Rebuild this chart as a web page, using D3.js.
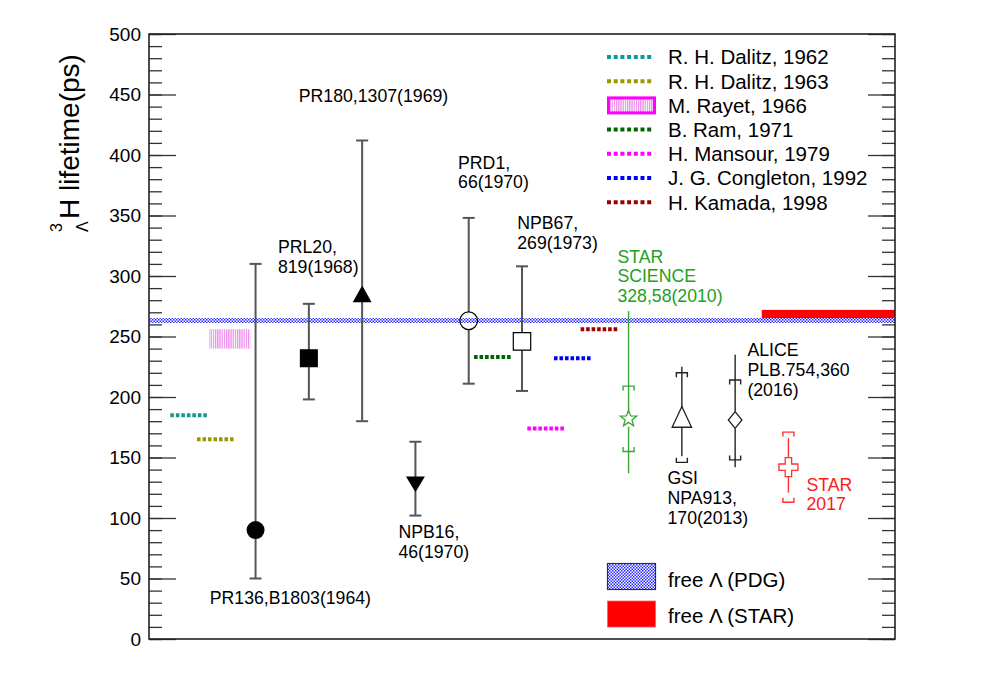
<!DOCTYPE html>
<html>
<head>
<meta charset="utf-8">
<script src="https://cdn.jsdelivr.net/npm/d3@7"></script>
<style>
body { margin: 0; background: #fff; }
text { font-family: "Liberation Sans", Arial, Helvetica, sans-serif; }
</style>
</head>
<body>
<div id="chart"></div>
<script>
// Hypertriton lifetime compilation - D3 version

// y axis ticks
var majorTicks = d3.range(0, 501, 50);
var minorTicks = d3.range(0, 501, 10);

// theory calculations (dashed lines)
var theoryNames  = ["R. H. Dalitz, 1962", "R. H. Dalitz, 1963", "M. Rayet, 1966", "B. Ram, 1971",
                    "H. Mansour, 1979", "J. G. Congleton, 1992", "H. Kamada, 1998"];
var theoryColors = ["#0f9a9a", "#999900", "#ff00ff", "#006600", "#ff00ff", "#0000ff", "#990000"];
var theoryValue  = [185, 165, null, 233, 174, 232, 256];
var theoryX0     = [0.4, 0.9, 1.13, 6.1, 7.1, 7.6, 8.1];
var theoryX1     = [1.1, 1.6, 1.9, 6.8, 7.8, 8.3, 8.8];
var rayetRange   = [240, 256];

// early emulsion / bubble chamber measurements
var oldX     = [2, 3, 4, 5, 6, 7];
var oldValue = [90, 232, 285, 128, 263, 246];
var oldHigh  = [310, 277, 412, 163, 348, 308];
var oldLow   = [50, 198, 180, 102, 211, 205];
var oldShape = ["circle", "square", "triangle", "triangleDown", "openCircle", "openSquare"];

// recent measurements (stat + syst)
var newX       = [9, 10, 11, 12];
var newValue   = [182, 183, 181, 142];
var newStatHi  = [271, 225, 235, 166];
var newStatLo  = [137, 151, 142, 121];
var newSysHi   = [209, 220, 214, 171];
var newSysLo   = [155, 146, 148, 113];
var newShape   = ["star", "openTriangle", "diamond", "cross"];
var newColors  = ["#3aa63a", "#222", "#222", "#ff3030"];

// free lambda lifetime bands
var pdgLambda  = [261.2, 265.2];
var starLambda = [262, 272];
var starBandX  = [11.5, 14];

// reference labels
var labelLines = [["PR136,B1803(1964)"], ["PRL20,", "819(1968)"], ["PR180,1307(1969)"],
                  ["NPB16,", "46(1970)"], ["PRD1,", "66(1970)"], ["NPB67,", "269(1973)"],
                  ["STAR", "SCIENCE", "328,58(2010)"], ["GSI", "NPA913,", "170(2013)"],
                  ["ALICE", "PLB.754,360", "(2016)"], ["STAR", "2017"]];
var labelX     = [1.14, 2.42, 2.81, 4.68, 5.80, 6.91, 8.79, 9.73, 11.23, 12.34];
var labelY     = [28.9, 319, 443.8, 83.2, 388.8, 338.8, 311, 127.8, 233.9, 122.6];
var labelColor = ["#000", "#000", "#000", "#000", "#000", "#000", "#22a022", "#000", "#000", "#ff1a1a"];

var W = 996, H = 673;
var margin = {top: 34, right: 101, bottom: 34, left: 149},
	width = W - margin.left - margin.right,
	height = H - margin.top - margin.bottom;

var x = d3.scaleLinear().domain([0, 14]).range([0, width]);
var y = d3.scaleLinear().domain([0, 500]).range([height, 0]);

var root = d3.select("#chart").append("svg")
	.attr("width", W)
	.attr("height", H);

var defs = root.append("defs");
var hatch = defs.append("pattern").attr("id", "hatch")
	.attr("patternUnits", "userSpaceOnUse").attr("width", 2.2).attr("height", 10);
hatch.append("rect").attr("width", 1.25).attr("height", 10).attr("fill", "#ec8cec");
var checker = defs.append("pattern").attr("id", "checker")
	.attr("patternUnits", "userSpaceOnUse").attr("width", 3).attr("height", 3);
checker.append("rect").attr("width", 3).attr("height", 3).attr("fill", "#fff");
checker.append("rect").attr("width", 1.5).attr("height", 1.5).attr("fill", "#2a2aff");
checker.append("rect").attr("x", 1.5).attr("y", 1.5).attr("width", 1.5).attr("height", 1.5).attr("fill", "#2a2aff");

var svg = root.append("g")
	.attr("transform", "translate(" + margin.left + "," + margin.top + ")");

// axes: ticks inside on both sides
svg.append("g").attr("class", "minor")
	.call(d3.axisLeft(y).tickValues(minorTicks).tickSize(-13).tickFormat(""));
svg.append("g").attr("class", "minor")
	.attr("transform", "translate(" + width + ",0)")
	.call(d3.axisRight(y).tickValues(minorTicks).tickSize(-13).tickFormat(""));
svg.append("g").attr("class", "major")
	.call(d3.axisLeft(y).tickValues(majorTicks).tickSize(-27).tickPadding(8));
svg.append("g").attr("class", "major")
	.attr("transform", "translate(" + width + ",0)")
	.call(d3.axisRight(y).tickValues(majorTicks).tickSize(-27).tickFormat(""));
svg.selectAll(".minor path, .major path").remove();
svg.selectAll(".tick line").attr("stroke", "#333").attr("stroke-width", 1.3);
svg.selectAll(".major text").attr("font-size", 19).attr("fill", "#000")
	.style("font-family", "'Liberation Sans', Arial, sans-serif");

// y title with pre-scripts
var title = root.append("g").attr("transform", "translate(79,232) rotate(-90)");
title.append("text").attr("x", 0).attr("y", -17).attr("font-size", 16).text("3");
title.append("text").attr("x", 0).attr("y", 9).attr("font-size", 16).text("\u039B");
title.append("text").attr("x", 13).attr("y", 0).attr("font-size", 28).text("H lifetime(ps)");

// free lambda bands
svg.append("rect")
	.attr("x", x(starBandX[0])).attr("width", x(starBandX[1]) - x(starBandX[0]))
	.attr("y", y(starLambda[1])).attr("height", y(starLambda[0]) - y(starLambda[1]))
	.attr("fill", "#ff0000");
svg.append("rect")
	.attr("x", 0).attr("width", width)
	.attr("y", y(pdgLambda[1])).attr("height", y(pdgLambda[0]) - y(pdgLambda[1]))
	.attr("fill", "url(#checker)");

// theory lines
theoryValue.forEach(function(v, i) {
	if (v === null) {
		svg.append("rect")
			.attr("x", x(theoryX0[i])).attr("width", x(theoryX1[i]) - x(theoryX0[i]))
			.attr("y", y(rayetRange[1])).attr("height", y(rayetRange[0]) - y(rayetRange[1]))
			.attr("fill", "url(#hatch)");
		return;
	}
	svg.append("line")
		.attr("x1", x(theoryX0[i])).attr("x2", x(theoryX1[i]))
		.attr("y1", y(v)).attr("y2", y(v))
		.attr("stroke", theoryColors[i]).attr("stroke-width", 4)
		.attr("stroke-dasharray", "3.6,1.9");
});

// marker shapes: path plus half height (gap for error bars)
function marker(kind) {
	var p = d3.path(), g = 8.4, filled = true;
	switch (kind) {
	case "circle": p.arc(0, 0, 8.4, 0, 2 * Math.PI); break;
	case "square": p.rect(-8.4, -8.4, 16.8, 16.8); break;
	case "triangle": p.moveTo(0, -7.5); p.lineTo(8.4, 7.5); p.lineTo(-8.4, 7.5); p.closePath(); g = 7.5; break;
	case "triangleDown": p.moveTo(0, 7); p.lineTo(8.4, -7); p.lineTo(-8.4, -7); p.closePath(); g = 7; break;
	case "openCircle": p.arc(0, 0, 8.8, 0, 2 * Math.PI); g = 8.8; filled = false; break;
	case "openSquare": p.rect(-8.7, -8.7, 17.4, 17.4); g = 8.7; filled = false; break;
	case "openTriangle": p.moveTo(0, -11); p.lineTo(9.7, 9.7); p.lineTo(-9.7, 9.7); p.closePath(); g = 10; filled = false; break;
	case "diamond": p.moveTo(0, -8.3); p.lineTo(6.8, 0); p.lineTo(0, 8.3); p.lineTo(-6.8, 0); p.closePath(); g = 8.3; filled = false; break;
	case "star":
		for (var k = 0; k < 10; k++) {
			var r = k % 2 ? 3.6 : 8.6, a = -Math.PI / 2 + k * Math.PI / 5;
			if (k) p.lineTo(r * Math.cos(a), r * Math.sin(a)); else p.moveTo(r * Math.cos(a), r * Math.sin(a));
		}
		p.closePath(); g = 8; filled = false; break;
	case "cross":
		var a1 = 3.2, a2 = 9.5;
		p.moveTo(-a1, -a2); p.lineTo(a1, -a2); p.lineTo(a1, -a1); p.lineTo(a2, -a1); p.lineTo(a2, a1);
		p.lineTo(a1, a1); p.lineTo(a1, a2); p.lineTo(-a1, a2); p.lineTo(-a1, a1); p.lineTo(-a2, a1);
		p.lineTo(-a2, -a1); p.lineTo(-a1, -a1); p.closePath(); g = 9.2; filled = false; break;
	}
	return {d: p.toString(), gap: g, filled: filled};
}

// error bar with gap around the marker
function errorBar(cx, cy, hi, lo, gap, color, w) {
	svg.append("line").attr("x1", cx).attr("x2", cx).attr("y1", hi).attr("y2", cy - gap)
		.attr("stroke", color).attr("stroke-width", w);
	svg.append("line").attr("x1", cx).attr("x2", cx).attr("y1", cy + gap).attr("y2", lo)
		.attr("stroke", color).attr("stroke-width", w);
}

// old measurements
oldX.forEach(function(d, i) {
	var m = marker(oldShape[i]), cx = x(d), cy = y(oldValue[i]);
	errorBar(cx, cy, y(oldHigh[i]), y(oldLow[i]), m.gap, "#555", 2);
	[oldHigh[i], oldLow[i]].forEach(function(v) {
		svg.append("line").attr("x1", cx - 6).attr("x2", cx + 6)
			.attr("y1", y(v)).attr("y2", y(v)).attr("stroke", "#555").attr("stroke-width", 2);
	});
	svg.append("path").attr("d", m.d).attr("transform", "translate(" + cx + "," + cy + ")")
		.attr("fill", m.filled ? "#000" : "none").attr("stroke", "#000").attr("stroke-width", 1.2);
});

// new measurements
newX.forEach(function(d, i) {
	var m = marker(newShape[i]), cx = x(d), cy = y(newValue[i]), c = newColors[i];
	errorBar(cx, cy, y(newStatHi[i]), y(newStatLo[i]), m.gap, c, 1.4);
	// systematic brackets open toward the point
	var t = y(newSysHi[i]), b = y(newSysLo[i]);
	svg.append("path").attr("d", "M" + (cx - 5.5) + "," + (t + 4.5) + "V" + t + "H" + (cx + 5.5) + "V" + (t + 4.5))
		.attr("fill", "none").attr("stroke", c).attr("stroke-width", 1.4);
	svg.append("path").attr("d", "M" + (cx - 5.5) + "," + (b - 4.5) + "V" + b + "H" + (cx + 5.5) + "V" + (b - 4.5))
		.attr("fill", "none").attr("stroke", c).attr("stroke-width", 1.4);
	svg.append("path").attr("d", m.d).attr("transform", "translate(" + cx + "," + cy + ")")
		.attr("fill", "none").attr("stroke", c).attr("stroke-width", 1.3);
});

// reference labels
labelLines.forEach(function(lines, i) {
	var t = svg.append("text").attr("font-size", 17.7).attr("fill", labelColor[i]);
	lines.forEach(function(s, j) {
		t.append("tspan").attr("x", x(labelX[i])).attr("y", y(labelY[i]) + j * 19.8).text(s);
	});
});

// legend (theory)
var leg = root.append("g");
theoryNames.forEach(function(name, i) {
	var cy = 57 + i * 24.2;
	if (theoryValue[i] === null) {
		leg.append("rect").attr("x", 608.5).attr("y", cy - 7.5).attr("width", 46).attr("height", 15)
			.attr("fill", "url(#hatch)").attr("stroke", "#ff00ff").attr("stroke-width", 3);
	} else {
		leg.append("line").attr("x1", 607).attr("x2", 653).attr("y1", cy).attr("y2", cy)
			.attr("stroke", theoryColors[i]).attr("stroke-width", 4).attr("stroke-dasharray", "4,2.7");
	}
	leg.append("text").attr("x", 668).attr("y", cy + 7.3).attr("font-size", 20.5).text(name);
});

// legend (bands)
leg.append("rect").attr("x", 607.5).attr("y", 563.5).attr("width", 48).attr("height", 26)
	.attr("fill", "url(#checker)").attr("stroke", "#333").attr("stroke-width", 1.2);
leg.append("text").attr("x", 668).attr("y", 586.5).attr("font-size", 20.5).text("free \u039B (PDG)");
leg.append("rect").attr("x", 607.5).attr("y", 601).attr("width", 48).attr("height", 26)
	.attr("fill", "#ff0000").attr("stroke", "#ff6060").attr("stroke-width", 0.8);
leg.append("text").attr("x", 668).attr("y", 622.5).attr("font-size", 20.5).text("free \u039B (STAR)");

// frame
svg.append("rect").attr("width", width).attr("height", height)
	.attr("fill", "none").attr("stroke", "#222").attr("stroke-width", 1.6);
</script>
</body>
</html>
